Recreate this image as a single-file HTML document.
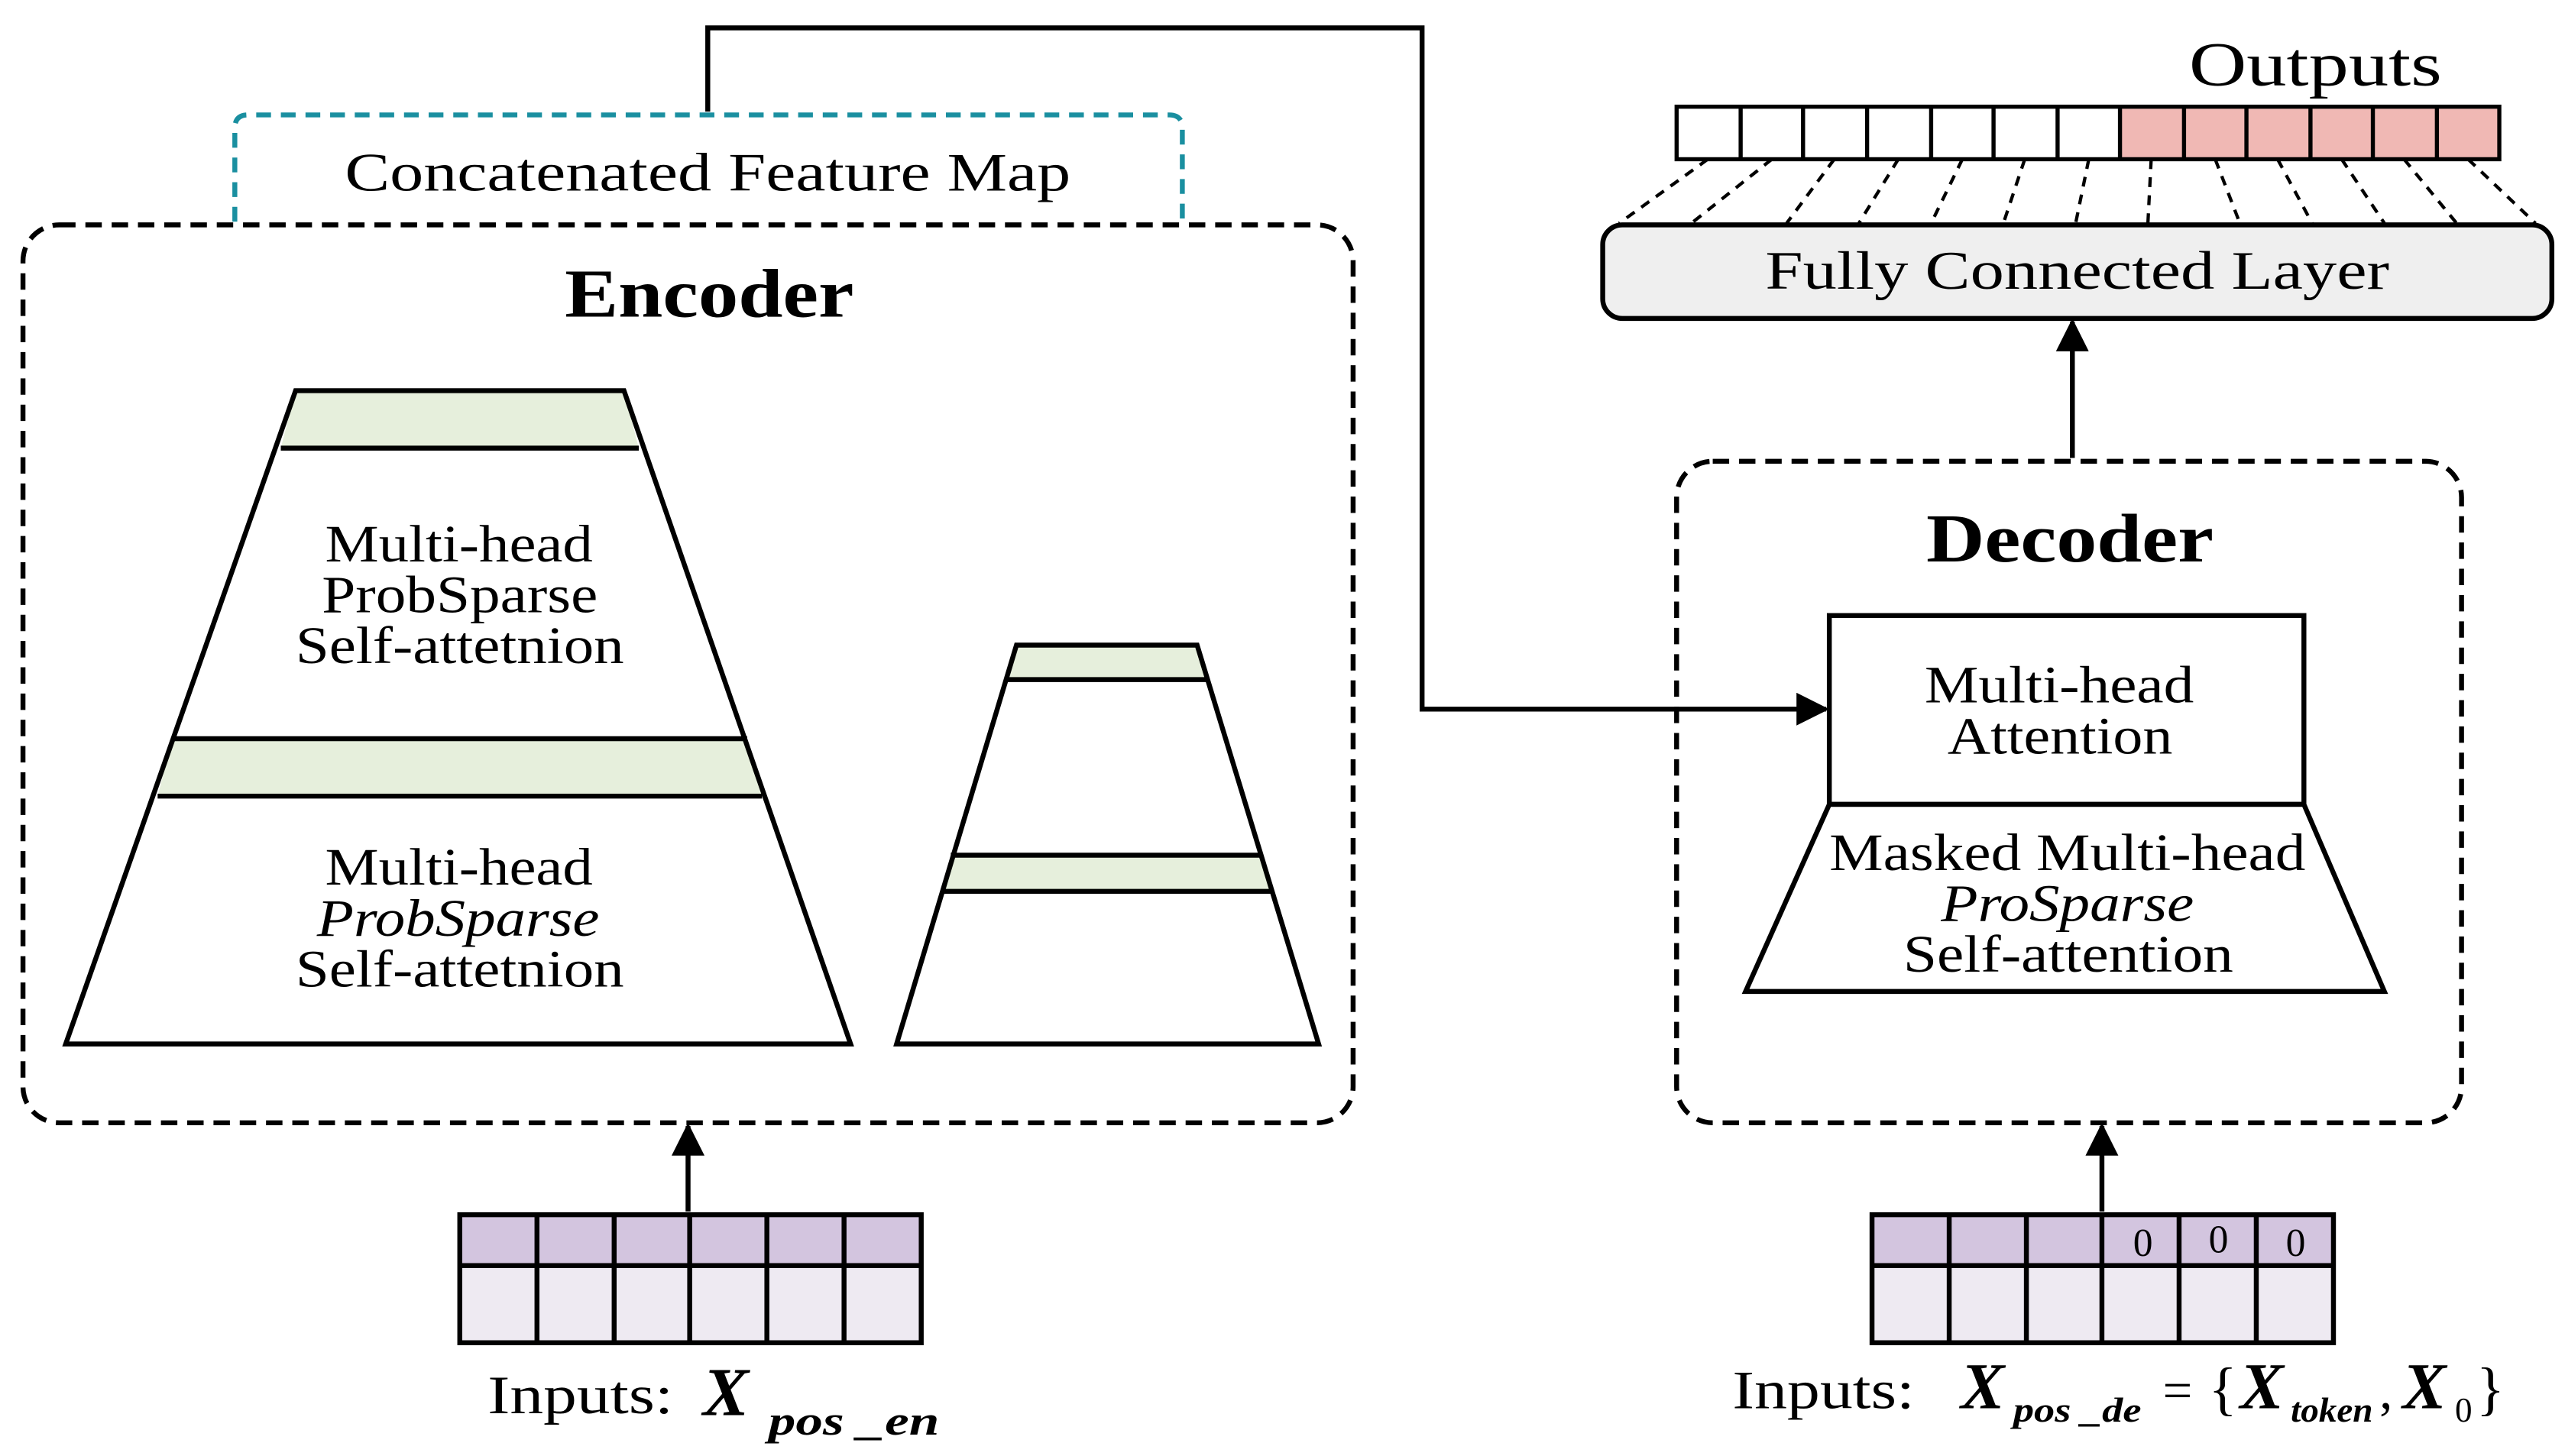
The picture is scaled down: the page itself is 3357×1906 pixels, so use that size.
<!DOCTYPE html>
<html><head><meta charset="utf-8"><style>
html,body{margin:0;padding:0;background:#fff;}
svg{display:block;}
text{font-family:"Liberation Serif",serif;fill:#000;}
</style></head><body>
<svg width="3357" height="1906" viewBox="0 0 1562 887" preserveAspectRatio="none" xmlns="http://www.w3.org/2000/svg">
<defs>
<marker id="ah2" markerWidth="20" markerHeight="20" refX="18" refY="10" orient="auto" markerUnits="userSpaceOnUse" viewBox="0 0 20 20">
<path d="M0,0 L20,10 L0,20 z" fill="#000"/></marker>
</defs>

<!-- top connector -->
<polyline points="431,68 431,17 866,17 866,432 1112,432" fill="none" stroke="#000" stroke-width="3" marker-end="url(#ah2)"/>

<!-- concatenated box -->
<path d="M143,135 L143,78 Q143,70 151,70 L712,70 Q720,70 720,78 L720,135" fill="none" stroke="#1a8fa0" stroke-width="3" stroke-dasharray="9,6"/>
<text x="210" y="116" font-size="33" textLength="442" lengthAdjust="spacingAndGlyphs">Concatenated Feature Map</text>

<!-- encoder box -->
<rect x="14" y="137" width="810" height="547" rx="22" fill="none" stroke="#000" stroke-width="3" stroke-dasharray="10,6"/>
<text x="344" y="193" font-size="42" font-weight="bold" textLength="176" lengthAdjust="spacingAndGlyphs">Encoder</text>

<!-- big trapezoid -->
<polygon points="180,238 380,238 389,273 171,273" fill="#e6efdc"/>
<polygon points="105,450 455,450 464,485 96,485" fill="#e6efdc"/>
<polygon points="180,238 380,238 518,636 40,636" fill="none" stroke="#000" stroke-width="3"/>
<line x1="171" y1="273" x2="389" y2="273" stroke="#000" stroke-width="3"/>
<line x1="105" y1="450" x2="455" y2="450" stroke="#000" stroke-width="3"/>
<line x1="96" y1="485" x2="464" y2="485" stroke="#000" stroke-width="3"/>
<g font-size="32" lengthAdjust="spacingAndGlyphs">
<text x="198" y="342" textLength="163" lengthAdjust="spacingAndGlyphs">Multi-head</text>
<text x="196" y="373" textLength="168" lengthAdjust="spacingAndGlyphs">ProbSparse</text>
<text x="180" y="404" textLength="200" lengthAdjust="spacingAndGlyphs">Self-attetnion</text>
<text x="198" y="539" textLength="163" lengthAdjust="spacingAndGlyphs">Multi-head</text>
<text x="193" y="570" font-style="italic" textLength="172" lengthAdjust="spacingAndGlyphs">ProbSparse</text>
<text x="180" y="601" textLength="200" lengthAdjust="spacingAndGlyphs">Self-attetnion</text>
</g>

<!-- small trapezoid -->
<polygon points="619,393 729,393 735,414 613,414" fill="#e6efdc"/>
<polygon points="579,521 767,521 774,543 573,543" fill="#e6efdc"/>
<polygon points="619,393 729,393 803,636 546,636" fill="none" stroke="#000" stroke-width="3"/>
<line x1="613" y1="414" x2="735" y2="414" stroke="#000" stroke-width="3"/>
<line x1="579" y1="521" x2="767" y2="521" stroke="#000" stroke-width="3"/>
<line x1="573" y1="543" x2="774" y2="543" stroke="#000" stroke-width="3"/>

<!-- encoder input arrow -->
<line x1="419" y1="738" x2="419" y2="686" stroke="#000" stroke-width="3" marker-end="url(#ah2)"/>

<!-- encoder input grid -->
<rect x="280" y="740" width="281" height="31" fill="#d3c5df"/>
<rect x="280" y="771" width="281" height="47" fill="#eeeaf2"/>
<g stroke="#000" stroke-width="3" fill="none">
<rect x="280" y="740" width="281" height="78"/>
<line x1="280" y1="771" x2="561" y2="771"/>
<line x1="327" y1="740" x2="327" y2="818"/><line x1="374" y1="740" x2="374" y2="818"/>
<line x1="420" y1="740" x2="420" y2="818"/><line x1="467" y1="740" x2="467" y2="818"/>
<line x1="514" y1="740" x2="514" y2="818"/>
</g>
<text x="297" y="861" font-size="33" textLength="113" lengthAdjust="spacingAndGlyphs">Inputs:</text>
<text x="428" y="862" font-size="42" font-style="italic" font-weight="bold">X</text>
<text x="468" y="874" font-size="25" font-style="italic" font-weight="bold" textLength="104" lengthAdjust="spacingAndGlyphs">pos _en</text>

<!-- decoder box -->
<rect x="1021" y="281" width="478" height="403" rx="22" fill="none" stroke="#000" stroke-width="3" stroke-dasharray="10,6"/>
<text x="1173" y="342" font-size="42" font-weight="bold" textLength="175" lengthAdjust="spacingAndGlyphs">Decoder</text>
<rect x="1114" y="375" width="289" height="115" fill="none" stroke="#000" stroke-width="3"/>
<polygon points="1114,490 1403,490 1452,604 1063,604" fill="none" stroke="#000" stroke-width="3"/>
<text x="1172" y="428" font-size="32" textLength="164" lengthAdjust="spacingAndGlyphs">Multi-head</text>
<text x="1186" y="459" font-size="32" textLength="137" lengthAdjust="spacingAndGlyphs">Attention</text>
<text x="1114" y="530" font-size="32" textLength="290" lengthAdjust="spacingAndGlyphs">Masked Multi-head</text>
<text x="1182" y="561" font-size="32" font-style="italic" textLength="154" lengthAdjust="spacingAndGlyphs">ProSparse</text>
<text x="1159" y="592" font-size="32" textLength="201" lengthAdjust="spacingAndGlyphs">Self-attention</text>

<!-- decoder up arrow -->
<line x1="1262" y1="279" x2="1262" y2="196" stroke="#000" stroke-width="3" marker-end="url(#ah2)"/>

<!-- FC layer -->
<rect x="976" y="137" width="578" height="57" rx="12" fill="#efefef" stroke="#000" stroke-width="3"/>
<text x="1075" y="176" font-size="33" textLength="380" lengthAdjust="spacingAndGlyphs">Fully Connected Layer</text>

<!-- outputs grid -->
<text x="1333" y="52" font-size="38" textLength="154" lengthAdjust="spacingAndGlyphs">Outputs</text>
<rect x="1291" y="65" width="231" height="32" fill="#f0b8b4"/>
<g stroke="#000" stroke-width="2.5" fill="none">
<rect x="1021" y="65" width="501" height="32"/>
<line x1="1060" y1="65" x2="1060" y2="97"/><line x1="1098" y1="65" x2="1098" y2="97"/>
<line x1="1137" y1="65" x2="1137" y2="97"/><line x1="1176" y1="65" x2="1176" y2="97"/>
<line x1="1214" y1="65" x2="1214" y2="97"/><line x1="1253" y1="65" x2="1253" y2="97"/>
<line x1="1291" y1="65" x2="1291" y2="97"/><line x1="1330" y1="65" x2="1330" y2="97"/>
<line x1="1368" y1="65" x2="1368" y2="97"/><line x1="1407" y1="65" x2="1407" y2="97"/>
<line x1="1445" y1="65" x2="1445" y2="97"/><line x1="1484" y1="65" x2="1484" y2="97"/>
</g>
<g stroke="#000" stroke-width="2" stroke-dasharray="6,5">
<line x1="1040" y1="97" x2="986" y2="136"/>
<line x1="1079" y1="97" x2="1030" y2="136"/>
<line x1="1117" y1="97" x2="1088" y2="136"/>
<line x1="1156" y1="97" x2="1132" y2="136"/>
<line x1="1195" y1="97" x2="1176" y2="136"/>
<line x1="1233" y1="97" x2="1220" y2="136"/>
<line x1="1272" y1="97" x2="1264" y2="136"/>
<line x1="1310" y1="97" x2="1308" y2="136"/>
<line x1="1349" y1="97" x2="1364" y2="136"/>
<line x1="1387" y1="97" x2="1408" y2="136"/>
<line x1="1426" y1="97" x2="1452" y2="136"/>
<line x1="1464" y1="97" x2="1496" y2="136"/>
<line x1="1503" y1="97" x2="1544" y2="136"/>
</g>

<!-- decoder input arrow -->
<line x1="1280" y1="738" x2="1280" y2="686" stroke="#000" stroke-width="3" marker-end="url(#ah2)"/>

<!-- decoder input grid -->
<rect x="1140" y="740" width="281" height="31" fill="#d3c5df"/>
<rect x="1140" y="771" width="281" height="47" fill="#eeeaf2"/>
<g stroke="#000" stroke-width="3" fill="none">
<rect x="1140" y="740" width="281" height="78"/>
<line x1="1140" y1="771" x2="1421" y2="771"/>
<line x1="1187" y1="740" x2="1187" y2="818"/><line x1="1234" y1="740" x2="1234" y2="818"/>
<line x1="1280" y1="740" x2="1280" y2="818"/><line x1="1327" y1="740" x2="1327" y2="818"/>
<line x1="1374" y1="740" x2="1374" y2="818"/>
</g>
<g font-size="24" text-anchor="middle">
<text x="1305" y="765">0</text><text x="1351" y="763">0</text><text x="1398" y="765">0</text>
</g>
<text x="1055" y="858" font-size="33" textLength="111" lengthAdjust="spacingAndGlyphs">Inputs:</text>
<text x="1194" y="858" font-size="40" font-style="italic" font-weight="bold">X</text>
<text x="1226" y="866" font-size="21" font-style="italic" font-weight="bold" textLength="78" lengthAdjust="spacingAndGlyphs">pos _de</text>
<text x="1317" y="858" font-size="32">=</text>
<text x="1345" y="858" font-size="36">{</text>
<text x="1364" y="858" font-size="40" font-style="italic" font-weight="bold">X</text>
<text x="1395" y="866" font-size="21" font-style="italic" font-weight="bold" textLength="50" lengthAdjust="spacingAndGlyphs">token</text>
<text x="1449" y="858" font-size="32">,</text>
<text x="1463" y="858" font-size="40" font-style="italic" font-weight="bold">X</text>
<text x="1495" y="866" font-size="21">0</text>
<text x="1508" y="858" font-size="36">}</text>
</svg>
</body></html>
